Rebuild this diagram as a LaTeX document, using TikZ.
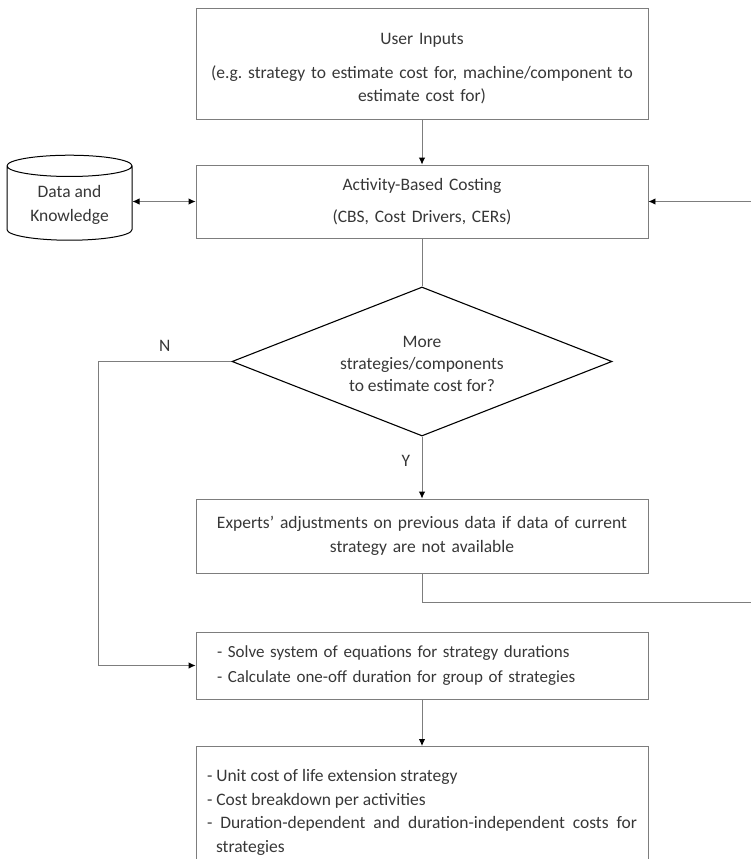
\documentclass[tikz,border=0pt]{standalone}
\usepackage{fontspec}
\setmainfont{Carlito}
\frenchspacing
\usetikzlibrary{shapes.geometric,arrows.meta}
\definecolor{linegray}{RGB}{125,125,125}
\definecolor{txtgray}{RGB}{55,55,55}
\begin{document}
\begin{tikzpicture}[x=1pt, y=-1pt,
    box/.style={draw=linegray, line width=0.9pt, text width=430pt, inner xsep=11pt, align=center, font=\fontsize{17.5}{23.5}\selectfont, text=txtgray},
    store/.style={draw=black, line width=1pt, cylinder, shape border rotate=90, aspect=0.25, minimum width=125pt, minimum height=85pt, align=center, font=\fontsize{17.5}{23.5}\selectfont, text=txtgray},
    decision/.style={draw=black, line width=1.1pt, diamond, aspect=2.5, inner sep=0pt, minimum width=380pt, minimum height=149pt, align=center, font=\fontsize{17.5}{22}\selectfont, text=txtgray},
    arrow/.style={-{Latex[length=7pt,width=6.5pt,color=black]}, line width=0.9pt, draw=linegray},
    twoway/.style={{Latex[length=7pt,width=6.5pt,color=black]}-{Latex[length=7pt,width=6.5pt,color=black]}, line width=0.9pt, draw=linegray},
    line/.style={line width=0.9pt, draw=linegray},
    tag/.style={font=\fontsize{17.5}{21}\selectfont, text=txtgray}
]
\clip (0,0) rectangle (751,859);

% Boxes
\node[box, minimum height=111pt] (inputs) at (422,63.5) {\rule{0pt}{22pt}User Inputs\\[10pt](e.g. strategy to estimate cost for, machine/component to\\estimate cost for)};
\node[box, minimum height=73pt] (costing) at (422,201.5) {Activity-Based Costing\\[9pt](CBS, Cost Drivers, CERs)};
\node[store] (data) at (69.5,205) {Data and\\Knowledge};
\node[decision] (more) at (422,361.5) {\rule{0pt}{17pt}More\\strategies/components\\to estimate cost for?};
\node[box, minimum height=74pt] (experts) at (422,536) {Experts’ adjustments on previous data if data of current\\strategy are not available};
\node[box, align=left, text width=410pt, inner xsep=21pt, minimum height=67pt, font=\fontsize{17}{25}\selectfont] (solve) at (422,665.5) {- Solve system of equations for strategy durations\\- Calculate one-off duration for group of strategies};
\node[box, align=justify, anchor=north, inner ysep=23pt] (results) at (422,746) {- Unit cost of life extension strategy\par
- Cost breakdown per activities\par
\hangindent=9pt\hangafter=1 - Duration-dependent and duration-independent costs for strategies\par};

% Free ends
\coordinate (fromright) at (751,201.5);
\coordinate (toright) at (751,602);
\coordinate (nbend) at (98,361.5);

% Arrows
\draw[arrow] (inputs) -- (costing);
\draw[twoway] (data.east |- costing.west) -- (costing.west);
\draw[arrow] (fromright) -- (costing.east);
\draw[line] (costing) -- (more);
\draw[arrow] (more.south) -- node[tag, pos=0.4, left=8pt] {Y} (experts.north);
\draw[line] (experts.south) |- (toright);
\draw[arrow] (more.west) -- node[tag, pos=0.5, above=6pt] {N} (nbend) |- (solve.west);
\draw[arrow] (solve) -- (results);
\end{tikzpicture}
\end{document}
